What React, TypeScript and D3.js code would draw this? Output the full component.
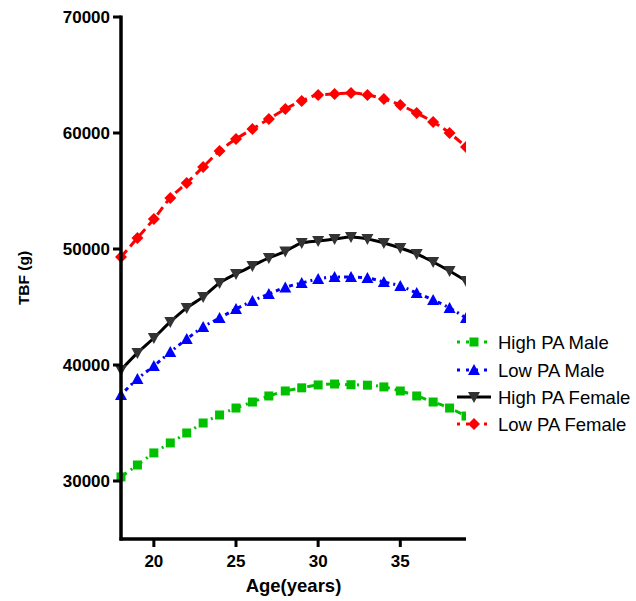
import React from "react";
import * as d3 from "d3";

const ages = [18,19,20,21,22,23,24,25,26,27,28,29,30,31,32,33,34,35,36,37,38,39];
const highPAMale = [30350,31380,32420,33280,34140,35000,35690,36290,36810,37330,37760,38030,38280,38360,38300,38260,38110,37760,37330,36810,36290,35600];
const lowPAMale = [37420,38800,39920,41120,42240,43280,44050,44830,45520,46120,46690,47070,47420,47590,47590,47500,47160,46810,46210,45610,44920,44050];
const highPAFemale = [39570,41040,42330,43710,44920,45870,47070,47850,48540,49230,49790,50520,50690,50860,51030,50860,50520,50090,49570,48880,48100,47250];
const lowPAFemale = [49310,50950,52590,54400,55690,57070,58450,59480,60340,61210,62070,62760,63280,63360,63450,63280,62930,62410,61720,60950,60000,58790];

const xTicks = [20,25,30,35];
const yTicks = [30000,40000,50000,60000,70000];

const seriesNames = ["High PA Male","Low PA Male","High PA Female","Low PA Female"];

type Style = { color: string; marker: string; dash: string; markerColor: string };
const styles: Style[] = [
  { color: "#00c000", marker: "square", dash: "7,5,2,5", markerColor: "#00c000" },
  { color: "#0000ff", marker: "triangle", dash: "2,4,4,4", markerColor: "#0000ff" },
  { color: "#000000", marker: "invtriangle", dash: "", markerColor: "#333333" },
  { color: "#ff0000", marker: "diamond", dash: "9,5", markerColor: "#ff0000" },
];

function Marker({ kind, x, y, color }: { kind: string; x: number; y: number; color: string }) {
  if (kind === "square") return <rect x={x - 4.5} y={y - 4.5} width={9} height={9} fill={color} />;
  if (kind === "triangle") return <path d={`M${x},${y - 6} L${x + 6},${y + 5} L${x - 6},${y + 5} Z`} fill={color} />;
  if (kind === "invtriangle") return <path d={`M${x - 6},${y - 5} L${x + 6},${y - 5} L${x},${y + 6} Z`} fill={color} />;
  return <path d={`M${x},${y - 6} L${x + 6},${y} L${x},${y + 6} L${x - 6},${y} Z`} fill={color} />;
}

export default function App() {
  const W = 636, H = 601;
  const left = 121, right = 466, top = 17, bottom = 539;
  const x = d3.scaleLinear().domain([18, 39]).range([left, right]);
  const y = d3.scaleLinear().domain([25000, 70000]).range([bottom, top]);
  const all = [highPAMale, lowPAMale, highPAFemale, lowPAFemale];
  const line = d3.line<number>().x((_, i) => x(ages[i])).y((d) => y(d)).curve(d3.curveMonotoneX);
  const font = "Liberation Sans, Arial, sans-serif";
  const legendY = [342, 370, 397, 424];

  return (
    <svg width={W} height={H} style={{ position: "absolute", left: 0, top: 0 }} fontFamily={font}>
      <defs>
        <clipPath id="plot">
          <rect x={left - 6} y={0} width={right - left + 6} height={H} />
        </clipPath>
      </defs>
      <rect width={W} height={H} fill="#fff" />
      <g clipPath="url(#plot)">
        {all.map((s, si) => (
          <g key={si}>
            <path d={line(s) || ""} fill="none" stroke={styles[si].color} strokeWidth={3} strokeDasharray={styles[si].dash || undefined} />
            {s.map((v, i) => (
              <Marker key={i} kind={styles[si].marker} x={x(ages[i])} y={y(v)} color={styles[si].markerColor} />
            ))}
          </g>
        ))}
      </g>
      {/* axes */}
      <line x1={left} x2={left} y1={top - 1.5} y2={bottom + 1.5} stroke="#000" strokeWidth={3.5} />
      <line x1={left - 1.5} x2={right} y1={bottom} y2={bottom} stroke="#000" strokeWidth={3.5} />
      {yTicks.map((t) => (
        <g key={t}>
          <line x1={left - 8} x2={left} y1={y(t)} y2={y(t)} stroke="#000" strokeWidth={3} />
          <text x={left - 11} y={y(t)} dy="0.36em" textAnchor="end" fontSize={17} fontWeight="bold">{t}</text>
        </g>
      ))}
      {xTicks.map((t) => (
        <g key={t}>
          <line x1={x(t)} x2={x(t)} y1={bottom} y2={bottom + 8} stroke="#000" strokeWidth={3} />
          <text x={x(t)} y={567} textAnchor="middle" fontSize={17} fontWeight="bold">{t}</text>
        </g>
      ))}
      <text x={(left + right) / 2} y={592} textAnchor="middle" fontSize={18.5} fontWeight="bold">Age(years)</text>
      <text transform={`translate(29,${(top + bottom) / 2}) rotate(-90)`} textAnchor="middle" fontSize={15.5} fontWeight="bold">TBF (g)</text>
      {/* legend */}
      {seriesNames.map((n, i) => (
        <g key={n}>
          <line x1={457} x2={491} y1={legendY[i]} y2={legendY[i]} stroke={styles[i].color} strokeWidth={3} strokeDasharray={styles[i].dash ? "3,6" : undefined} />
          <Marker kind={styles[i].marker} x={474} y={legendY[i]} color={styles[i].markerColor} />
          <text x={498} y={legendY[i]} dy="0.36em" fontSize={18.5}>{n}</text>
        </g>
      ))}
    </svg>
  );
}
